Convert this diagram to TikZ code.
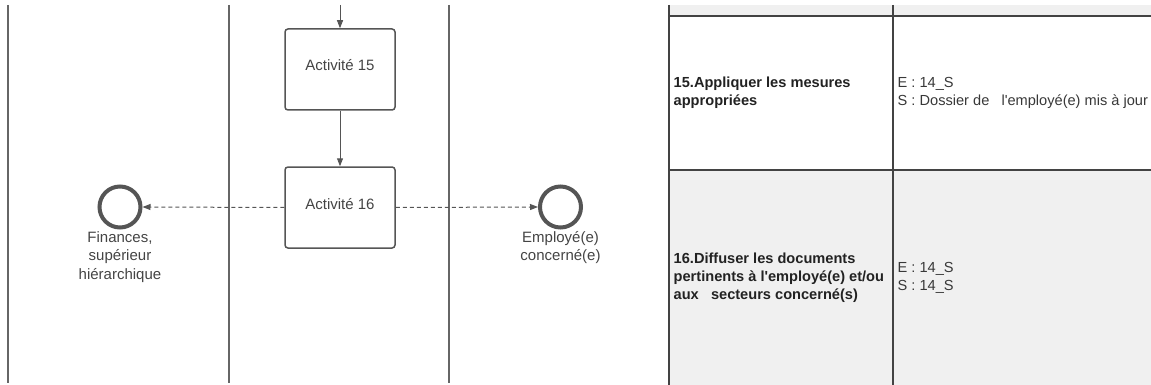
\documentclass[tikz,border=0pt]{standalone}
\usepackage{fontspec}
\newfontfamily\lsans{Liberation Sans}
\usetikzlibrary{arrows.meta,positioning}
\definecolor{lanegray}{HTML}{666666}
\definecolor{shapegray}{HTML}{555555}
\definecolor{textgray}{HTML}{444444}
\definecolor{cellgray}{HTML}{F0F0F0}
\definecolor{tabink}{HTML}{222222}
\begin{document}
\begin{tikzpicture}[x=1pt,y=-1pt,
  font=\lsans,
  lane/.style={draw=lanegray,line width=2pt},
  activity/.style={draw=shapegray,line width=1.5pt,rounded corners=3pt,
    minimum width=110pt,minimum height=81pt,inner sep=0pt,
    text=textgray,font=\lsans\fontsize{15}{18}\selectfont,
    text height=11pt,text depth=8pt},
  endevent/.style={circle,draw=shapegray,line width=4pt,minimum size=41pt,inner sep=0pt},
  evlabel/.style={align=center,text=textgray,inner sep=0pt,
    font=\lsans\fontsize{15}{18.5}\selectfont},
  flow/.style={draw=shapegray,line width=1pt,-{Triangle[length=8pt,width=6pt]}},
  msgflow/.style={flow,dash pattern=on 4pt off 3pt},
  tabline/.style={draw=tabink!85,line width=1.5pt},
  titlecell/.style={anchor=west,align=left,inner sep=0pt,text=tabink,
    font=\lsans\bfseries\fontsize{14.6}{17.8}\selectfont},
  iocell/.style={anchor=west,align=left,inner sep=0pt,text=tabink!90,
    font=\lsans\fontsize{14.6}{17.8}\selectfont}]
\useasboundingbox (0,0) rectangle (1151,385);

% swimlane separators
\draw[lane] (8,5) -- (8,383);
\draw[lane] (229,5) -- (229,383);
\draw[lane] (449,5) -- (449,383);

% activities
\node[activity] (a15) at (340,69.5) {Activité 15};
\node[activity] (a16) at (340,207.5) {Activité 16};
\coordinate (in15) at (340,5);

% end events
\node[endevent] (fin) at (120,207) {};
\node[endevent] (emp) at (560.5,207) {};
\node[evlabel,anchor=north] (finlab) at (120,231) {Finances,\\supérieur\\hiérarchique};
\node[evlabel,anchor=north] (emplab) at (560.5,231) {Employé(e)\\concerné(e)};

% sequence and message flows
\draw[flow] (in15) -- (a15);
\draw[flow] (a15) -- (a16);
\draw[msgflow] (a16.west) -- (fin.east);
\draw[msgflow] (a16.east) -- (emp.west);

% description table
\fill[cellgray] (669,5) rectangle (1151,16);
\fill[cellgray] (669,170) rectangle (1151,385);
\draw[tabline] (669,16) -- (1151,16);
\draw[tabline] (669,170) -- (1151,170);
\draw[tabline,line width=2pt] (669,5) -- (669,385);
\draw[tabline] (893,5) -- (893,385);

\node[titlecell] (t15) at (673.5,93) {15.Appliquer les mesures\\appropriées};
\node[iocell] (io15) at (897.5,93) {E : 14\_S\\S : Dossier de \ \ l'employé(e) mis à jour};
\node[titlecell] (t16) at (673.5,278) {16.Diffuser les documents\\pertinents à l'employé(e) et/ou\\aux \ \ secteurs concerné(s)};
\node[iocell] (io16) at (897.5,278) {E : 14\_S\\S : 14\_S};
\end{tikzpicture}
\end{document}
